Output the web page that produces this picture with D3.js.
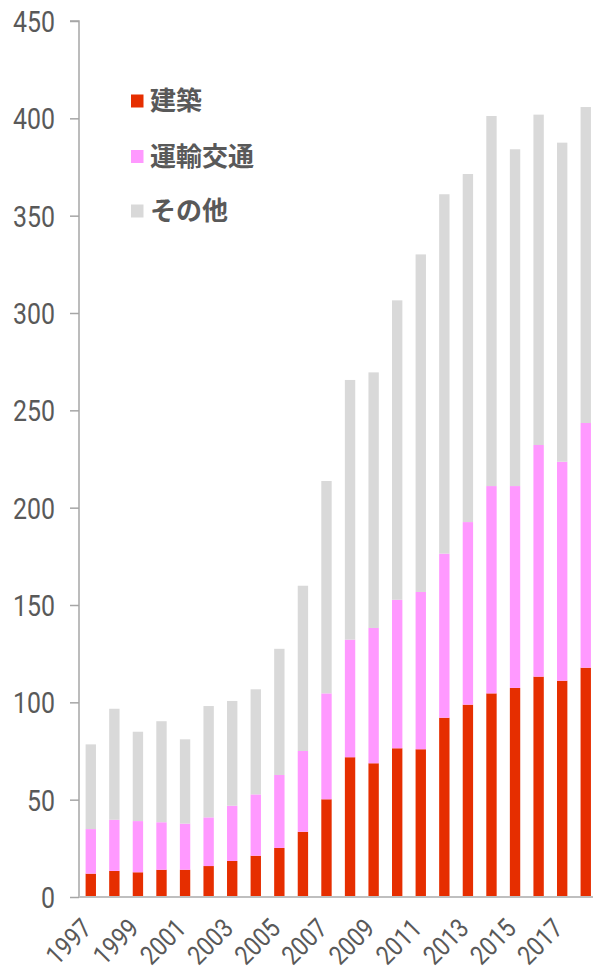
<!DOCTYPE html>
<html><head><meta charset="utf-8">
<script src="https://cdn.jsdelivr.net/npm/d3@7"></script>
<style>
html,body{margin:0;padding:0;background:#fff;}
svg{display:block;}
</style></head>
<body>
<svg id="chart" width="593" height="973"></svg>
<script>
const years = ["1997","1998","1999","2000","2001","2002","2003","2004","2005","2006","2007","2008","2009","2010","2011","2012","2013","2014","2015","2016","2017","2018"];
const seriesNames = ["建築","運輸交通","その他"];
const construction = [12.0,13.4,12.7,14.0,14.0,15.9,18.5,21.2,25.2,33.5,50.2,71.8,68.7,76.4,75.9,92.1,98.8,104.6,107.4,113.2,111.1,117.8];
const transport    = [22.9,26.3,26.3,24.4,23.7,25.0,28.4,31.5,37.5,41.5,54.4,60.4,69.5,76.3,80.8,84.3,93.8,106.5,103.7,119.0,112.5,125.7];
const others       = [43.5,57.0,45.9,51.9,43.3,57.2,53.8,54.0,64.8,84.9,109.1,133.4,131.3,153.8,173.4,184.6,178.8,190.1,173.0,169.7,163.9,162.3];
const yTicks = [0,50,100,150,200,250,300,350,400,450];
const xLabels = ["1997","1999","2001","2003","2005","2007","2009","2011","2013","2015","2017"];
const colors = ["#e62e00","#ff99ff","#d9d9d9"];

const svg = d3.select("#chart");
const mLeft = 79, mTop = 21, mBottom = 897;
const x = d3.scaleBand().domain(years).range([mLeft, mLeft + 22*23.57]).paddingInner(0.56).paddingOuter(0.28);
const y = d3.scaleLinear().domain([0,450]).range([mBottom, mTop]);

const rows = years.map((yr,i)=>({year:yr, "建築":construction[i], "運輸交通":transport[i], "その他":others[i]}));
const stack = d3.stack().keys(seriesNames)(rows);

svg.append("g").selectAll("g").data(stack).join("g")
  .attr("fill",(d,i)=>colors[i])
  .selectAll("rect").data(d=>d).join("rect")
  .attr("x",d=>x(d.data.year))
  .attr("width",x.bandwidth())
  .attr("y",d=>y(d[1]))
  .attr("height",d=>y(d[0])-y(d[1]));

const numFont = "Roboto, 'Noto Sans', sans-serif";
const cjkFont = "'Noto Sans CJK JP', sans-serif";
// y axis
const ya = svg.append("g").attr("transform",`translate(${mLeft},0)`)
  .call(d3.axisLeft(y).tickValues(yTicks).tickSize(9).tickFormat(""));
ya.select(".domain").attr("stroke","#a6a6a6").attr("stroke-width",1.5).attr("d",`M-9,${mTop}H0V${mBottom}`);
ya.selectAll(".tick line").attr("stroke","#a6a6a6").attr("stroke-width",1.5);
ya.selectAll(".tick").append("g").attr("transform","translate(-24,0) scale(0.86,1)")
  .append("text").attr("text-anchor","end").attr("dy","0.36em")
  .attr("fill","#595959").style("font-family",numFont).style("font-size","29px")
  .text(d=>d);

// x axis
const xa = svg.append("g").attr("transform",`translate(0,${mBottom})`);
xa.append("line").attr("x1",mLeft).attr("x2",593).attr("y1",0).attr("y2",0).attr("stroke","#bfbfbf").attr("stroke-width",2);
xa.selectAll("text").data(xLabels).join("text")
  .attr("transform",d=>`translate(${x(d)+x.bandwidth()/2+2.5},${33}) rotate(-45) scale(0.86,1)`)
  .attr("text-anchor","end")
  .attr("fill","#595959").style("font-family",numFont).style("font-size","26.5px")
  .text(d=>d);

// legend
const lg = svg.append("g");
const ly = [101,156.5,211];
seriesNames.forEach((n,i)=>{
  lg.append("rect").attr("x",131).attr("y",ly[i]-6.5).attr("width",12.5).attr("height",13).attr("fill",colors[i]);
  lg.append("text").attr("x",150).attr("y",ly[i]).attr("dy","0.36em").attr("fill","#595959")
    .style("font-family",cjkFont).style("font-size","26px").style("font-weight","bold").text(n);
});
</script>
</body></html>
